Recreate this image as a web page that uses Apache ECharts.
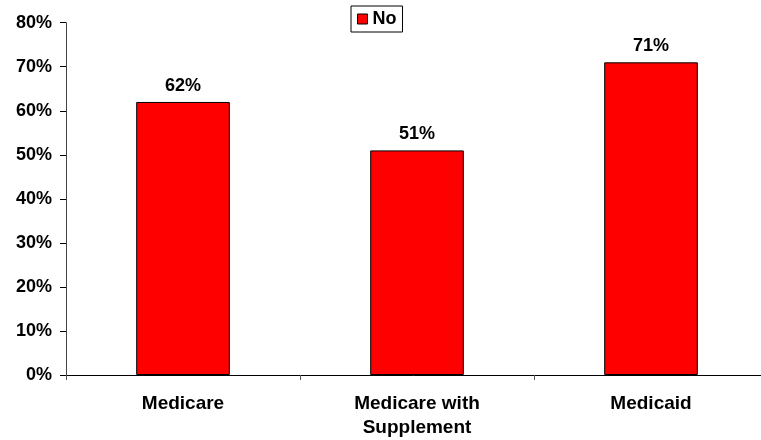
<!DOCTYPE html>
<html>
<head>
<meta charset="utf-8">
<script src="https://cdn.jsdelivr.net/npm/echarts@6/dist/echarts.min.js"></script>
<style>
html,body{margin:0;padding:0;background:#fff;}
#chart{width:761px;height:440px;}
</style>
</head>
<body>
<div id="chart"></div>
<script>
const categories = ['Medicare', 'Medicare with\nSupplement', 'Medicaid'];
const seriesName = 'No';
const values = [62, 51, 71];
const yTicks = [0, 10, 20, 30, 40, 50, 60, 70, 80];

const FONT = '"Liberation Sans", Arial, sans-serif';
const chart = echarts.init(document.getElementById('chart'), null, {renderer: 'canvas'});
chart.setOption({
  animation: false,
  backgroundColor: '#fff',
  textStyle: {fontFamily: FONT},
  legend: {
    data: [seriesName],
    left: 351,
    top: 6,
    orient: 'horizontal',
    padding: [4, 6, 4, 6],
    itemWidth: 10,
    itemHeight: 10,
    borderColor: '#000',
    borderWidth: 1,
    icon: 'rect',
    itemStyle: {borderColor: '#000', borderWidth: 1},
    textStyle: {fontFamily: FONT, fontWeight: 'bold', fontSize: 18, color: '#000', lineHeight: 18}
  },
  grid: {left: 66, width: 702, top: 22.7, height: 352.3, containLabel: false, outerBoundsMode: 'none'},
  xAxis: {
    type: 'category',
    data: categories,
    axisLine: {lineStyle: {color: '#000', width: 1}},
    axisTick: {show: true, length: 5, lineStyle: {color: '#555'}},
    axisLabel: {
      fontFamily: FONT, fontWeight: 'bold', fontSize: 19, color: '#000',
      margin: 17, lineHeight: 24, interval: 0
    }
  },
  yAxis: {
    type: 'value',
    min: 0,
    max: 80,
    interval: 10,
    axisLine: {show: true, lineStyle: {color: '#444', width: 1}},
    axisTick: {show: true, length: 6, lineStyle: {color: '#000'}},
    splitLine: {show: false},
    axisLabel: {
      fontFamily: FONT, fontWeight: 'bold', fontSize: 18, color: '#000', margin: 14,
      formatter: function (v) { return yTicks.indexOf(v) >= 0 ? v + '%' : ''; }
    }
  },
  series: [{
    name: seriesName,
    type: 'bar',
    data: values,
    barWidth: '40%',
    itemStyle: {color: '#FF0000', borderColor: '#000', borderWidth: 1},
    label: {
      show: true,
      position: 'top',
      distance: 7,
      fontFamily: FONT, fontWeight: 'bold', fontSize: 18, color: '#000',
      formatter: '{c}%'
    }
  }]
});
</script>
</body>
</html>
